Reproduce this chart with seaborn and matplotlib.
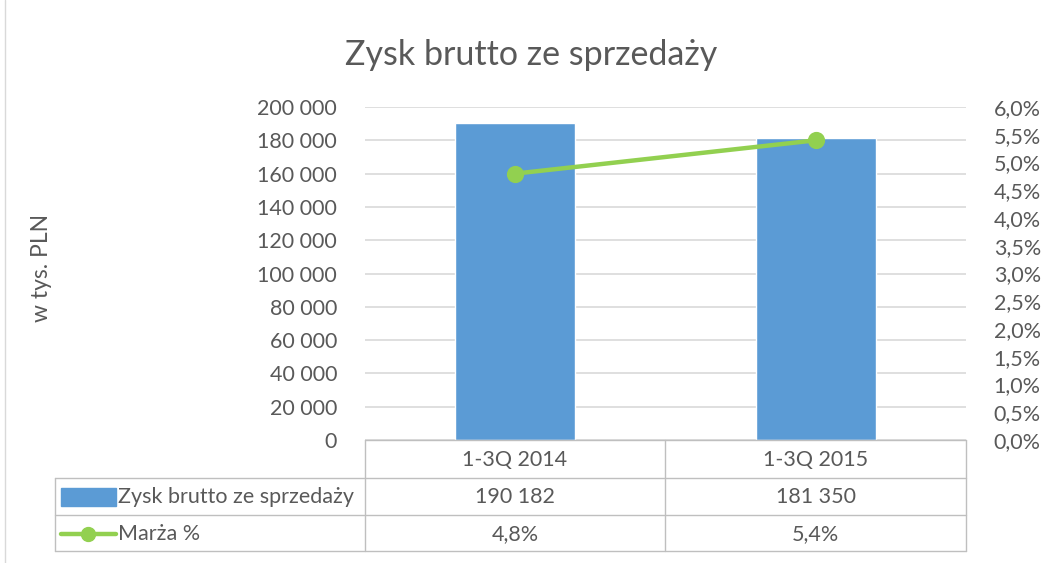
import matplotlib
matplotlib.use("Agg")
import matplotlib.pyplot as plt
import seaborn as sns
import pandas as pd
import numpy as np
from matplotlib.patches import Rectangle

# data
categories = ["1-3Q 2014", "1-3Q 2015"]
zysk = [190182, 181350]
marza = [4.8, 5.4]
series_names = ["Zysk brutto ze sprzedaży", "Marża %"]
title = "Zysk brutto ze sprzedaży"
ylabel = "w tys. PLN"

BAR = "#5B9BD5"
LINE = "#92D050"
TXT = "#595959"
GRID = "#D9D9D9"
FS = 15.5

sns.set_style("white")
plt.rcParams["font.family"] = ["Lato", "DejaVu Sans"]

W, H = 1041, 563
fig = plt.figure(figsize=(W / 100, H / 100), dpi=100)

def fr(x0, y0, x1, y1):
    return [x0 / W, 1 - y1 / H, (x1 - x0) / W, (y1 - y0) / H]

ax = fig.add_axes(fr(365, 107, 966, 440))
df = pd.DataFrame({"kat": categories, "zysk": zysk})
sns.barplot(data=df, x="kat", y="zysk", color=BAR, width=0.4, saturation=1, ax=ax, zorder=2)
ax.set_ylim(0, 200000)
ax.set_xlim(-0.5, len(categories) - 0.5)
ax.set_yticks(np.arange(0, 200001, 20000))
ax.set_yticklabels([f"{int(v):,}".replace(",", " ") for v in ax.get_yticks()])
ax.yaxis.grid(True, color=GRID, lw=1.2, zorder=0)
ax.set_axisbelow(True)
ax.tick_params(axis="y", length=0, pad=20, labelsize=FS, labelcolor=TXT)
ax.set_xticks([])
ax.set_xlabel("")
ax.set_ylabel("")
for s in ax.spines.values():
    s.set_visible(False)

ax2 = ax.twinx()
sns.pointplot(x=categories, y=marza, color=LINE, ax=ax2, markers="o",
              markersize=10, linewidth=3.2)
ax2.set_ylim(0, 6)
ax2.set_xlim(-0.5, len(categories) - 0.5)
ax2.set_yticks(np.arange(0, 6.01, 0.5))
ax2.set_yticklabels([f"{v:.1f}%".replace(".", ",") for v in ax2.get_yticks()])
ax2.tick_params(axis="y", length=0, pad=20, labelsize=FS, labelcolor=TXT)
ax2.set_xticks([])
ax2.set_xlabel("")
for s in ax2.spines.values():
    s.set_visible(False)

fig.text(531 / W, 1 - 55 / H, title, ha="center", va="center", fontsize=24.5, color=TXT)
fig.text(42 / W, 1 - 268 / H, ylabel, ha="center", va="center", rotation=90,
         fontsize=16.5, color=TXT)

# data table in pixel coordinates
tab = fig.add_axes([0, 0, 1, 1], facecolor="none")
tab.set_xlim(0, W)
tab.set_ylim(H, 0)
tab.axis("off")
lc = "#BFBFBF"
cols = [365, 665, 966]
rows = [440, 478, 515, 551]
tab.plot([365, 966], [440, 440], color=lc, lw=1)
for y in rows[1:]:
    tab.plot([55, 966], [y, y], color=lc, lw=1)
for x in cols:
    tab.plot([x, x], [440, 551], color=lc, lw=1)
tab.plot([55, 55], [478, 551], color=lc, lw=1)
tab.plot([5, 5], [0, 563], color="#D9D9D9", lw=1)

centers = [(cols[i] + cols[i + 1]) / 2 for i in range(len(categories))]
for i, c in enumerate(categories):
    tab.text(centers[i], 460, c, ha="center", va="center", fontsize=FS, color=TXT)
    tab.text(centers[i], 497, f"{zysk[i]:,}".replace(",", " "), ha="center", va="center",
             fontsize=FS, color=TXT)
    tab.text(centers[i], 534, f"{marza[i]:.1f}%".replace(".", ","), ha="center", va="center",
             fontsize=FS, color=TXT)

tab.add_patch(Rectangle((61, 488), 55, 18, color=BAR))
tab.plot([61, 116], [534, 534], color=LINE, lw=3.2)
tab.plot([88], [534], "o", color=LINE, ms=10)
tab.text(118, 497, series_names[0], ha="left", va="center", fontsize=FS, color=TXT)
tab.text(118, 534, series_names[1], ha="left", va="center", fontsize=FS, color=TXT)

fig.savefig("out.png", dpi=100)
